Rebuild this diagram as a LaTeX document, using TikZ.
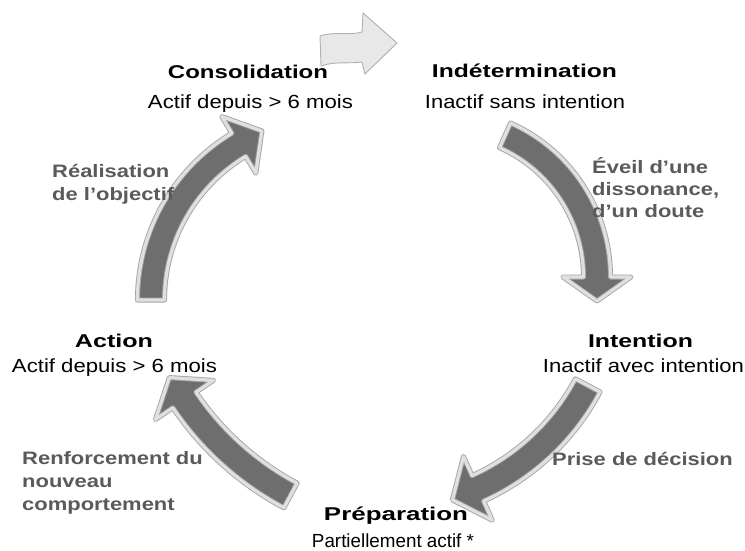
\documentclass[tikz,border=0pt]{standalone}
\usepackage{fontspec}
\setmainfont{Liberation Sans}
\usepackage{graphicx}
\usetikzlibrary{calc}
\definecolor{arrowdark}{HTML}{6E6E6E}
\definecolor{edgeouter}{HTML}{A4A4A4}
\definecolor{edgeinner}{HTML}{E0E0E0}
\definecolor{toplight}{HTML}{E8E8E8}
\definecolor{topedge}{HTML}{B0B0B0}
\definecolor{labelgray}{HTML}{5A5A5A}
\newcommand{\fitw}[2]{\resizebox{#1}{\height}{#2}}
\newcommand{\sx}[1]{\scalebox{1.22}[1]{#1}}
% #1 centre, #2 radius, #3 start angle, #4 end angle, #5 half width, #6 half head width, #7 head length
\newcommand{\carrow}[7]{%
  \draw[bigarrow] ($(#1)+(#3:{#2+#5})$) arc[start angle=#3, end angle=#4, radius={#2+#5}]
    -- ($(#1)+(#4:{#2+#6})$) -- ($(#1)+(#4:#2)+({#4+90}:#7)$) -- ($(#1)+(#4:{#2-#6})$)
    -- ($(#1)+(#4:{#2-#5})$) arc[start angle=#4, end angle=#3, radius={#2-#5}] -- cycle;}
\begin{document}
\begin{tikzpicture}[x=1pt,y=-1pt,
  bigarrow/.style={fill=arrowdark, draw=edgeouter, line width=5pt, line join=round,
    postaction={draw=edgeinner, line width=3.2pt, line join=round}},
  toparrow/.style={fill=toplight, draw=topedge, line width=0.9pt, line join=miter},
  ttl/.style={font=\bfseries\fontsize{18.5}{20}\selectfont, inner sep=0pt, anchor=base},
  sub/.style={font=\fontsize{19}{21}\selectfont, inner sep=0pt, anchor=base},
  lbl/.style={font=\bfseries\fontsize{18}{20}\selectfont, text=labelgray, inner sep=0pt, anchor=base west}]
\useasboundingbox (0,0) rectangle (745,551);
\fill[white] (0,0) rectangle (745,551);
% arc centres
\coordinate (c1) at (442,277);
\coordinate (c2) at (382,276);
\coordinate (c3) at (429,235);
\coordinate (c4) at (332,300);
% curved block arrows
\carrow{c1}{155}{-66}{0}{13.5}{34}{24}
\carrow{c2}{233}{28}{65.7}{14}{35}{28}
\carrow{c3}{295}{118}{146}{14}{35}{27}
\carrow{c4}{181}{180}{239}{13.5}{33}{27}
% top light arrow
\draw[toparrow] (320,36) .. controls (335,31) and (348,36) .. (362,32) -- (363,13) -- (397,43)
  -- (365,74) -- (362,62) .. controls (348,64) and (335,61) .. (321,66) -- cycle;
% stage titles
\node[ttl] (cons) at (248,78) {\fitw{160pt}{Consolidation}};
\node[sub] (consS) at (250.5,108) {\fitw{205pt}{Actif depuis > 6 mois}};
\node[ttl] (indet) at (524.5,78) {\fitw{185pt}{Indétermination}};
\node[sub] (indetS) at (525,108) {\fitw{200pt}{Inactif sans intention}};
\node[ttl] (inten) at (640.5,347) {\fitw{105pt}{Intention}};
\node[sub] (intenS) at (643.5,372) {\fitw{201pt}{Inactif avec intention}};
\node[ttl] (act) at (114,347) {\fitw{78pt}{Action}};
\node[sub] (actS) at (114.5,372) {\fitw{205pt}{Actif depuis > 6 mois}};
\node[ttl] (prep) at (396,520) {\fitw{144pt}{Préparation}};
\node[sub] (prepS) at (393,547) {\fitw{162pt}{Partiellement actif *}};
% transition labels
\node[lbl] (l1a) at (592,173) {\sx{Éveil d’une}};
\node[lbl] (l1b) at (592,195) {\sx{dissonance,}};
\node[lbl] (l1c) at (592,217) {\sx{d’un doute}};
\node[lbl] (l2) at (552,465) {\sx{Prise de décision}};
\node[lbl] (l3a) at (22,464) {\sx{Renforcement du}};
\node[lbl] (l3b) at (22,487) {\sx{nouveau}};
\node[lbl] (l3c) at (22,510) {\sx{comportement}};
\node[lbl] (l4a) at (52,177) {\sx{Réalisation}};
\node[lbl] (l4b) at (52,200) {\sx{de l’objectif}};
\end{tikzpicture}
\end{document}
